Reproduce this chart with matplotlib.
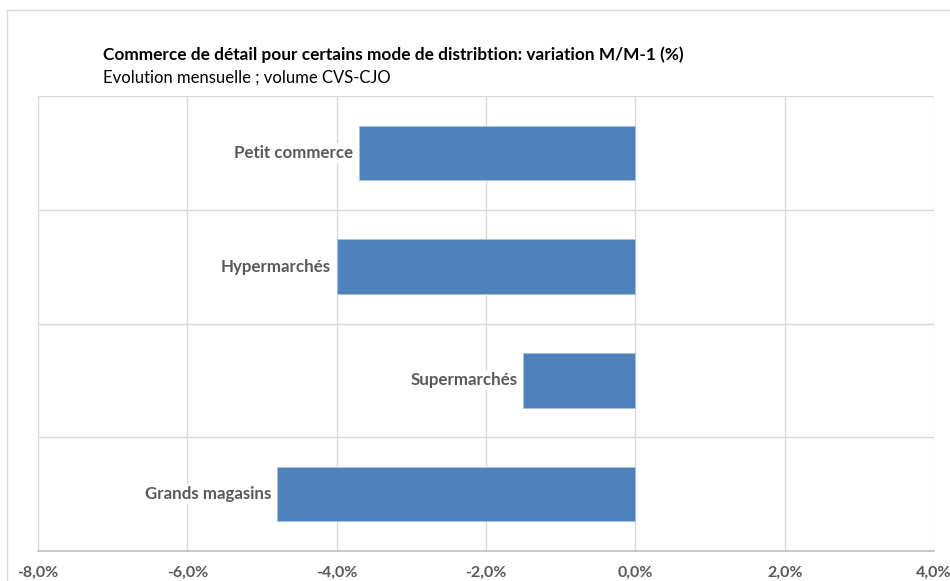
import matplotlib.pyplot as plt
from matplotlib.lines import Line2D
from matplotlib.ticker import FuncFormatter, MultipleLocator

# ============================================================
# Data
# ============================================================
categories = ["Petit commerce", "Hypermarchés", "Supermarchés", "Grands magasins"]
values = [-3.7, -4.0, -1.5, -4.8]

title = "Commerce de détail pour certains mode de distribtion: variation M/M-1 (%)"
subtitle = "Evolution mensuelle ; volume CVS-CJO"

bar_color = "#4F81BD"
grid_color = "#D9D9D9"
text_gray = "#595959"

plt.rcParams["font.family"] = ["Lato", "DejaVu Sans"]

# ============================================================
# Figure
# ============================================================
W, H = 950, 581
fig = plt.figure(figsize=(W / 100, H / 100), dpi=100)

# chart border (Excel chart area)
fig.add_artist(Line2D([7 / W, 7 / W], [0, 1 - 10 / H], color=grid_color, lw=1))
fig.add_artist(Line2D([7 / W, 1], [1 - 10 / H, 1 - 10 / H], color=grid_color, lw=1))

left, right, top, bottom = 38, 934, 96, 551
ax = fig.add_axes([left / W, 1 - bottom / H, (right - left) / W, (bottom - top) / H])

y = list(range(len(categories)))
ax.barh(y, values, height=0.48, color=bar_color, edgecolor="#A9C1DF", linewidth=0.6, zorder=3)

ax.set_xlim(-8, 4)
ax.set_ylim(3.5, -0.5)

ax.xaxis.set_major_locator(MultipleLocator(2))
ax.xaxis.set_major_formatter(FuncFormatter(lambda v, p: f"{v:.1f}%".replace(".", ",")))
ax.set_yticks([])
ax.set_yticks([-0.5, 0.5, 1.5, 2.5], minor=True)
ax.tick_params(axis="y", which="minor", length=0)
ax.tick_params(axis="x", length=0, pad=11, labelsize=11.5, labelcolor=text_gray)
for lab in ax.get_xticklabels():
    lab.set_fontweight("bold")

ax.grid(True, axis="x", which="major", color=grid_color, lw=1, zorder=0)
ax.grid(True, axis="y", which="minor", color=grid_color, lw=1, zorder=0)

for s in ["top", "left", "right"]:
    ax.spines[s].set_visible(False)
ax.spines["bottom"].set_color("#BFBFBF")
ax.spines["bottom"].set_linewidth(1.2)

# category labels at bar ends
for yi, v, name in zip(y, values, categories):
    ax.annotate(name, xy=(v, yi), xytext=(-4, 0), textcoords="offset points",
                ha="right", va="center", fontsize=12.2, fontweight="bold",
                color=text_gray, zorder=4,
                bbox=dict(boxstyle="square,pad=0.1", fc="white", ec="none"))

fig.text(103 / W, 1 - 55 / H, title, fontsize=12.4, fontweight="bold",
         color="black", va="center", ha="left")
fig.text(103 / W, 1 - 78 / H, subtitle, fontsize=12, color="black",
         va="center", ha="left")

fig.savefig("out.png", dpi=100)
